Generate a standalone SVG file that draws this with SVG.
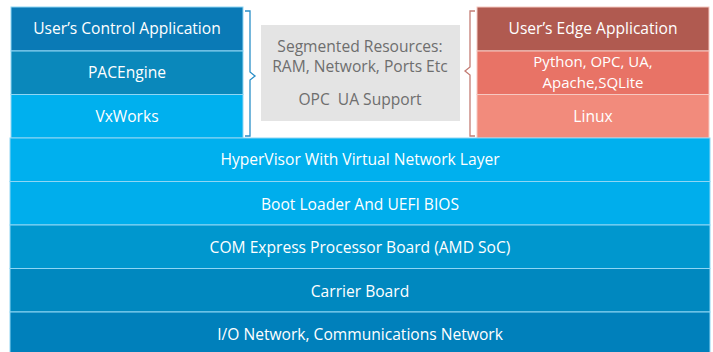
<svg xmlns="http://www.w3.org/2000/svg" width="713" height="352" viewBox="0 0 713 352">
<style>
text{font-family:"Open Sans","Noto Sans","Liberation Sans",sans-serif;font-size:15.6px;text-anchor:middle;}
.w{fill:#ffffff;}
.g{fill:#6e6e6e;}
.s{font-size:15px;}
.cell{stroke:#8fd6f4;stroke-width:1;}
.rcell{stroke:#f6c9c2;stroke-width:1;}
.br{fill:none;stroke-width:1.3;}
</style>
<rect width="713" height="352" fill="#ffffff"/>
<g id="left-stack">
<g id="user-control-app"><rect class="cell" x="11" y="7" width="232" height="44" fill="#0a7ab6"/><text class="w" x="127" y="34">User’s Control Application</text></g>
<g id="pacengine"><rect class="cell" x="11" y="51" width="232" height="43.5" fill="#0a88bb"/><text class="w" x="127" y="78">PACEngine</text></g>
<g id="vxworks"><rect class="cell" x="11" y="94.5" width="232" height="43.5" fill="#00b0ee"/><text class="w" x="127" y="122">VxWorks</text></g>
</g>
<g id="segmented-resources">
<rect x="261" y="25" width="199" height="96" fill="#e4e4e4"/>
<text class="g" x="360" y="52">Segmented Resources:</text>
<text class="g" x="360" y="72">RAM, Network, Ports Etc</text>
<text class="g" x="360" y="105">OPC&#160; UA Support</text>
</g>
<g id="right-stack">
<g id="user-edge-app"><rect class="rcell" x="477" y="7" width="232" height="44" fill="#b05a50"/><text class="w" x="593" y="34">User’s Edge Application</text></g>
<g id="python-opc"><rect class="rcell" x="477" y="51" width="232" height="43.5" fill="#e87366"/><text class="w s" x="593" y="66.5">Python, OPC, UA,</text><text class="w s" x="593" y="87.5">Apache,SQLite</text></g>
<g id="linux"><rect class="rcell" x="477" y="94.5" width="232" height="43.5" fill="#f28b7c"/><text class="w" x="593" y="122">Linux</text></g>
</g>
<g id="bottom-layers">
<g id="hypervisor"><rect class="cell" x="10" y="138" width="700" height="43.5" fill="#00b0ee"/><text class="w" x="360" y="165">HyperVisor With Virtual Network Layer</text></g>
<g id="bootloader"><rect class="cell" x="10" y="181.5" width="700" height="43.5" fill="#00aeec"/><text class="w" x="360" y="210">Boot Loader And UEFI BIOS</text></g>
<g id="com-express"><rect class="cell" x="10" y="225" width="700" height="43.5" fill="#0097ce"/><text class="w" x="360" y="253">COM Express Processor Board (AMD SoC)</text></g>
<g id="carrier"><rect class="cell" x="10" y="268.5" width="700" height="43.5" fill="#0088bf"/><text class="w" x="360" y="297">Carrier Board</text></g>
<g id="io-network"><rect class="cell" x="10" y="312" width="700" height="41" fill="#0080bb"/><text class="w" x="360" y="340">I/O Network, Communications Network</text></g>
</g>
<g id="connectors">
<path class="br" stroke="#2a8fc8" d="M245,11 H250 V72 L255,76 L250,80 V136 H245"/>
<path class="br" stroke="#c47d75" d="M475,11 H470 V67 L465,71 L470,75 V136 H475"/>
</g>
</svg>
